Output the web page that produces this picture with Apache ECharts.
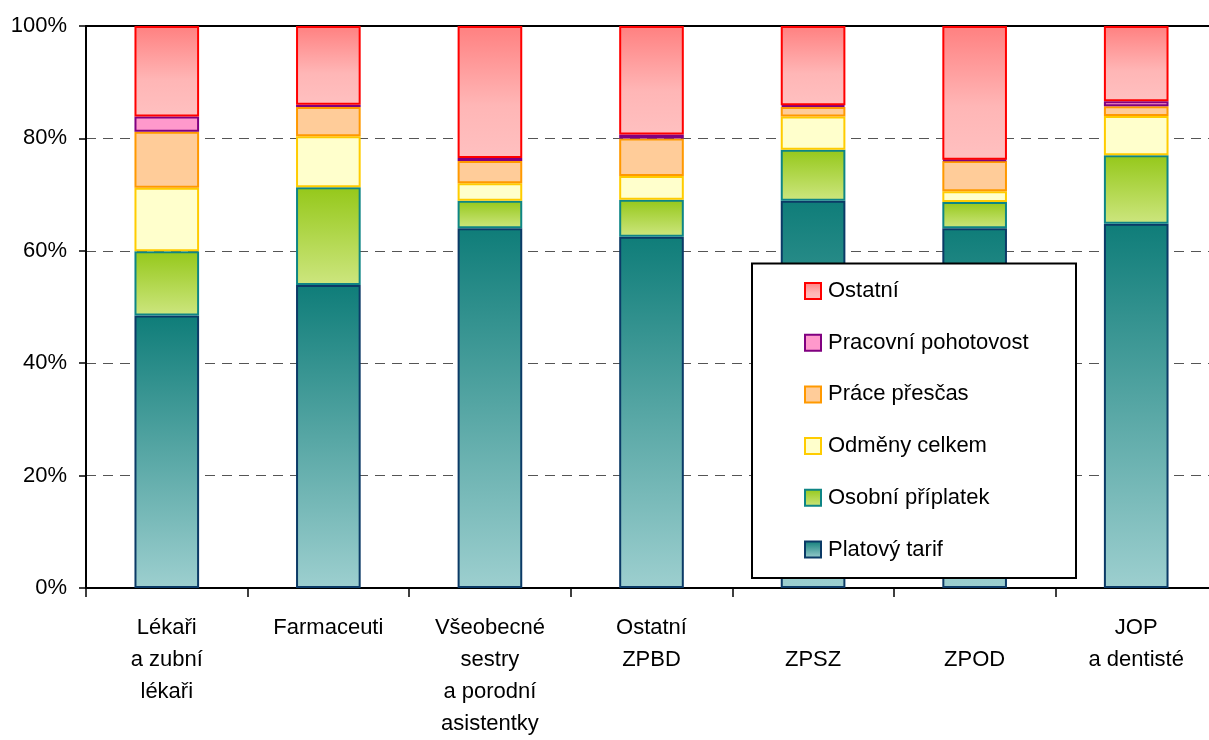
<!DOCTYPE html>
<html>
<head>
<meta charset="utf-8">
<script src="https://cdn.jsdelivr.net/npm/echarts@6/dist/echarts.min.js"></script>
<style>html,body{margin:0;padding:0;background:#fff;overflow:hidden}#c{width:1222px;height:740px}</style>
</head>
<body>
<div id="c"></div>
<script>
const categories = ["Lékaři\na zubní\nlékaři", "Farmaceuti", "Všeobecné\nsestry\na porodní\nasistentky", "Ostatní\nZPBD", "\nZPSZ", "\nZPOD", "JOP\na dentisté"];
const yTicks = [0, 20, 40, 60, 80, 100];
const platovyTarif     = [48.5, 53.9, 64.0, 62.5, 68.9, 64.0, 64.8];
const osobniPriplatek  = [11.4, 17.4, 4.9, 6.6, 9.1, 4.7, 12.2];
const odmenyCelkem     = [11.3, 9.1, 3.1, 4.2, 5.9, 1.9, 7.0];
const pracePrescas     = [10.0, 5.2, 4.0, 6.7, 1.7, 5.4, 1.7];
const pracovniPohot    = [2.7, 0.4, 0.5, 0.7, 0.3, 0.2, 0.9];
const ostatni          = [16.1, 14.0, 23.5, 19.3, 14.1, 23.8, 13.4];
const seriesNames = ["Platový tarif", "Osobní příplatek", "Odměny celkem", "Práce přesčas", "Pracovní pohotovost", "Ostatní"];

const grad = (a, b, mid) => new echarts.graphic.LinearGradient(0, 0, 0, 1,
  mid ? [{offset: 0, color: a}, {offset: mid[0], color: mid[1]}, {offset: 1, color: b}]
      : [{offset: 0, color: a}, {offset: 1, color: b}]);

const styles = [
  {color: grad('#0f7d79', '#9dcfcf'), borderColor: '#0b3a66'},
  {color: grad('#95c81a', '#cde67f'), borderColor: '#0e8585'},
  {color: '#ffffcc', borderColor: '#ffcc00'},
  {color: '#ffcc99', borderColor: '#ff9900'},
  {color: '#ff99cc', borderColor: '#800080'},
  {color: grad('#ff8080', '#ffc0c0', [0.6, '#ffb6b6']), borderColor: '#ff0000'}
];
const dataSets = [platovyTarif, osobniPriplatek, odmenyCelkem, pracePrescas, pracovniPohot, ostatni];

const chart = echarts.init(document.getElementById('c'), null, {renderer: 'canvas'});
const font = '"Liberation Sans", Arial, sans-serif';
const fs = 22;
chart.setOption({
  animation: false,
  backgroundColor: '#fff',
  textStyle: {fontFamily: font, color: '#000'},
  grid: {left: 86, top: 26, width: 1131, height: 564, containLabel: false},
  xAxis: [{
    type: 'category', data: categories, position: 'bottom',
    axisLine: {lineStyle: {color: '#000', width: 2}},
    axisTick: {show: true, length: 9, lineStyle: {color: '#000', width: 1.5}},
    axisLabel: {interval: 0, color: '#000', fontSize: fs, fontFamily: font, lineHeight: 32, margin: 24, verticalAlign: 'top'},
    splitLine: {show: false}
  }, {
    type: 'category', data: categories, position: 'top',
    axisLine: {lineStyle: {color: '#000', width: 2}},
    axisTick: {show: false}, axisLabel: {show: false}, splitLine: {show: false}
  }],
  yAxis: {
    type: 'value', min: 0, max: 100, interval: 20,
    axisLine: {show: true, lineStyle: {color: '#000', width: 2}},
    axisTick: {show: true, length: 7, lineStyle: {color: '#000', width: 1.5}},
    axisLabel: {color: '#000', fontSize: fs, fontFamily: font, margin: 19,
      formatter: v => yTicks.includes(v) ? v + '%' : ''},
    splitLine: {show: true, lineStyle: {color: '#555', width: 1, type: [10, 7]}}
  },
  graphic: {elements: [{
    type: 'rect', z: 10, shape: {x: 752, y: 263.5, width: 324, height: 314.5},
    style: {fill: '#fff', stroke: '#000', lineWidth: 2}
  }]},
  legend: {
    z: 20, orient: 'vertical', left: 804, top: 280,
    data: seriesNames.slice().reverse(),
    icon: 'rect', itemWidth: 16, itemHeight: 16, itemGap: 29.7,
    padding: 0,
    textStyle: {fontSize: fs, fontFamily: font, color: '#000', lineHeight: 22, padding: [0, 0, 0, 2]},
    itemStyle: {borderWidth: 2}
  },
  series: dataSets.map((d, i) => ({
    name: seriesNames[i], type: 'bar', stack: 'total', xAxisIndex: 0,
    data: d, barWidth: '40%',
    itemStyle: Object.assign({borderWidth: 2}, styles[i])
  }))
});
</script>
</body>
</html>
